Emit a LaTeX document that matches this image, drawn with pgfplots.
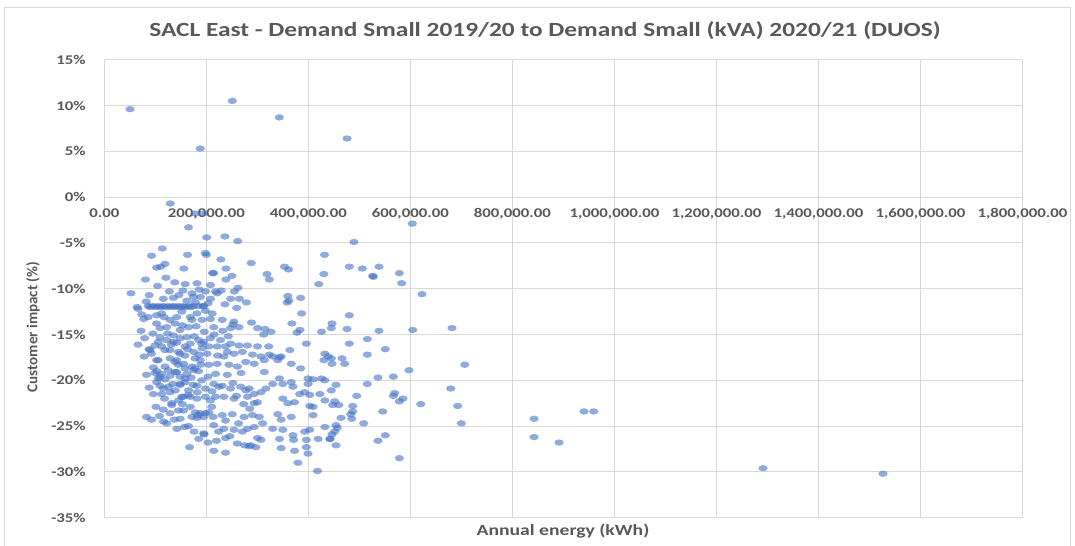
\documentclass[border=0pt]{standalone}
\usepackage{fontspec}
\setmainfont{Carlito}[FakeStretch=1.26]
\newfontfamily\plainfont{Carlito}
\usepackage{pgfplots}
\pgfplotsset{compat=1.18}
\definecolor{txt}{HTML}{595959}
\definecolor{gridc}{HTML}{D9D9D9}
\definecolor{dot}{HTML}{4472C4}

\begin{document}
\begin{tikzpicture}[x=0.75pt,y=0.75pt]
\useasboundingbox (0,0) rectangle (1075,546);
\draw[gridc, line width=0.75pt] (4.5,-5) -- (4.5,538) -- (1070.5,538) -- (1070.5,-5);
\begin{axis}[
  at={(78.3pt,21.225pt)}, anchor=south west,
  scale only axis, width=688.5pt, height=343.5pt,
  xmin=0, xmax=1800000, ymin=-35, ymax=15,
  axis x line=middle, axis y line=left,
  axis line style={-, draw=gridc, line width=0.75pt},
  hide obscured x ticks=false,
  scaled x ticks=false, scaled y ticks=false,
  major tick length=0pt,
  grid=major, grid style={draw=gridc, line width=0.75pt},
  xtick={0,200000,400000,600000,800000,1000000,1200000,1400000,1600000,1800000},
  xticklabels={0.00,{200,000.00},{400,000.00},{600,000.00},{800,000.00},{1,000,000.00},{1,200,000.00},{1,400,000.00},{1,600,000.00},{1,800,000.00}},
  ytick={-35,-30,-25,-20,-15,-10,-5,0,5,10,15},
  yticklabels={-35\%,-30\%,-25\%,-20\%,-15\%,-10\%,-5\%,0\%,5\%,10\%,15\%},
  tick label style={font=\fontsize{10}{12}\selectfont\bfseries, text=txt},
  xticklabel style={yshift=-5pt},
  yticklabel style={xshift=-10.5pt},
]
\addplot[only marks, mark=*, mark size=2.4pt, color=dot,
  mark options={xscale=1.45, fill=dot, fill opacity=0.6, draw opacity=0}] coordinates {
(50200,9.6) (250800,10.5) (343000,8.7) (188000,5.3) (475700,6.4)
(129200,-0.7) (177700,-1.8) (193300,-1.8) (603700,-2.9) (165000,-3.3)
(200600,-4.4) (236300,-4.3) (261400,-4.8)
(489400,-4.9) (480200,-7.6) (505700,-7.8) (538400,-7.6) (526000,-8.6) (527500,-8.7)
(578300,-8.3) (582900,-9.4) (622700,-10.6) (480200,-12.9) (446300,-13.8) (444900,-14.3)
(475700,-14.4) (538400,-14.6) (604500,-14.5) (681600,-14.3) (515500,-15.5) (480200,-16.0)
(550800,-16.6) (515500,-17.2) (465900,-17.6) (471200,-18.2) (445000,-17.6) (446300,-18.2)
(706500,-18.3) (597300,-18.9) (566500,-19.6) (536500,-19.7) (515500,-20.4) (454100,-20.5)
(444900,-21.1) (679000,-20.9) (494700,-21.7) (569200,-21.4) (566500,-21.7) (585500,-22.0)
(578300,-22.3) (620200,-22.6) (692700,-22.8) (451600,-22.3) (447600,-22.7) (459400,-22.7)
(486900,-22.8) (545700,-23.4) (486900,-23.4) (483000,-23.7) (485000,-24.2) (464000,-24.1)
(508400,-24.7) (699800,-24.7) (842400,-24.2) (940400,-23.4) (959400,-23.4) (842400,-26.2)
(891400,-26.8) (454100,-24.9) (456700,-25.2) (451600,-25.6) (446300,-25.9) (442400,-26.4)
(550800,-26.0) (536500,-26.6) (454100,-27.1) (578300,-28.5) (1291400,-29.6) (1526700,-30.2)
(113500,-5.6) (92400,-6.4) (163000,-6.3) (198000,-6.1) (200000,-6.3) (228400,-6.8)
(287800,-7.2) (353100,-7.6) (361000,-7.9) (431600,-6.3) (118800,-7.3) (110200,-7.6)
(102300,-7.7) (155800,-7.8)
(211900,-8.3) (214500,-8.3) (238300,-7.8) (238300,-9.0) (250100,-8.6) (318800,-8.4)
(323400,-9.0) (430300,-8.4) (420400,-9.5) (80500,-9.0) (120800,-8.8) (104300,-9.7)
(158400,-9.5) (181500,-9.4)
(52100,-10.5) (87800,-10.7) (127400,-10.3) (153800,-10.2) (171600,-10.5) (174900,-10.9)
(198000,-10.3) (217800,-10.3) (229000,-10.2) (221100,-10.5) (254800,-10.3) (359700,-10.8)
(361700,-11.3) (358400,-11.5) (384800,-11.0) (115500,-11.1) (135300,-11.0) (188100,-10.9)
(207900,-11.1) (247500,-11.1) (264700,-11.1) (278500,-11.5) (64000,-12.0) (66000,-12.2)
(161700,-11.3) (178200,-11.5) (236300,-11.7) (193400,-11.9) (203300,-11.6)
(85800,-11.9) (90000,-12.0) (95700,-11.9) (100000,-12.0) (105600,-11.9) (110000,-12.0)
(115500,-11.9) (120000,-12.0) (125400,-11.9) (130000,-12.0) (135300,-11.9) (140000,-12.0)
(145200,-11.9) (150000,-12.0) (155100,-11.9) (160000,-12.0) (165000,-11.9) (170000,-12.0)
(174900,-11.9) (184800,-11.9) (194700,-11.9)
(259400,-12.1) (386800,-12.7) (77200,-13.3) (85800,-13.1) (102300,-12.9) (112200,-12.7)
(128700,-13.4) (141900,-13.1) (151800,-12.5) (168300,-13.1) (181500,-12.7) (198000,-12.4)
(211200,-12.7) (207900,-13.3) (231000,-13.4) (254100,-13.6) (247500,-14.3) (288400,-13.7)
(300300,-14.3) (314800,-14.4) (312200,-15.0) (326700,-14.7) (367600,-13.8) (383500,-14.5)
(377500,-14.8) (425700,-14.7) (102300,-13.8) (108900,-14.3) (122100,-14.2) (138600,-13.8)
(148500,-14.5) (165000,-14.2) (171600,-13.4) (191400,-13.4) (214500,-14.2) (264000,-14.2)
(396000,-16.0) (363700,-16.7) (280500,-16.2) (264000,-16.2) (237600,-16.3) (221100,-16.3)
(300300,-16.3) (322100,-16.3) (66000,-16.1) (87800,-16.6) (92400,-17.1) (108900,-15.3)
(122100,-15.6) (135300,-15.1) (148500,-15.4) (161700,-15.3) (168300,-16.0) (184800,-15.6)
(194700,-15.8) (207900,-15.4) (227700,-15.6) (247500,-16.0) (432300,-17.1) (438900,-17.4)
(112200,-16.3) (128700,-16.7) (145200,-16.9) (158400,-16.3) (174900,-16.9) (191400,-16.5)
(201300,-17.1) (240900,-16.9) (254100,-17.1) (270600,-16.9) (290400,-17.2) (306900,-17.4)
(323400,-17.2) (339900,-17.8) (346500,-17.4)
(102300,-17.8) (118800,-18.5) (138600,-18.0) (155100,-18.2) (171600,-18.5) (188100,-17.8)
(204600,-18.3) (221100,-18.2) (234300,-17.4) (244200,-18.3) (260700,-18.5) (277200,-18.0)
(293700,-18.2) (313500,-17.8) (330000,-17.4) (343200,-17.5) (366300,-18.2) (384800,-18.7)
(430300,-17.8)
(82500,-19.4) (99000,-19.2) (105600,-19.8) (112200,-19.3) (125400,-18.9) (128700,-19.5)
(141900,-19.1) (148500,-19.6) (161700,-19.3) (174900,-18.9) (184800,-19.0)
(313500,-19.1) (399300,-19.8) (409200,-19.9) (425700,-19.8)
(102300,-20.2) (108900,-20.6) (115500,-20.9) (125400,-20.7) (112200,-21.5) (128700,-21.3)
(148500,-20.4) (158400,-20.2) (165000,-21.1) (181500,-20.6) (198000,-20.9) (214500,-20.4)
(224400,-20.7) (231000,-20.6) (217800,-21.8) (234300,-21.8) (247500,-20.9) (267300,-20.7)
(277200,-21.1) (283800,-20.9) (293700,-21.5) (306900,-21.3) (316800,-20.9) (330000,-20.4)
(343200,-19.8) (349800,-20.4) (366300,-20.2) (369600,-20.7) (382800,-21.5) (392700,-21.3)
(399300,-20.4) (402600,-21.6) (422400,-21.5) (432300,-20.0)
(132000,-22.5) (145200,-22.2) (155100,-21.8) (168300,-21.8) (181500,-22.0) (198000,-21.8)
(207900,-22.2) (254100,-22.0) (280500,-21.8) (293700,-22.5) (300300,-22.4) (349800,-22.0)
(359700,-22.5) (372900,-22.4) (402600,-22.8) (409200,-22.9) (432300,-22.2)
(115500,-23.2) (128700,-23.6) (145200,-23.3) (155100,-23.3) (168300,-22.9) (178200,-23.5)
(188100,-23.6) (198000,-23.6) (204600,-23.5) (82500,-24.0) (92400,-24.3) (122100,-24.7)
(148500,-24.2) (171600,-24.0) (181500,-24.1) (194700,-24.0) (213200,-24.0) (231000,-23.8)
(237600,-24.4) (250800,-23.7) (273900,-24.0) (290400,-23.8) (303600,-24.0) (339900,-23.7)
(346500,-24.3) (366300,-24.0) (409200,-23.8) (432300,-25.1)
(165000,-25.0) (214500,-24.9) (234300,-25.3) (254100,-25.4) (270600,-25.6) (280500,-25.3)
(293700,-25.1) (310200,-24.7) (330000,-25.3) (349800,-25.4) (369600,-26.0) (392700,-25.6)
(402600,-25.4)
(194700,-25.8) (195500,-25.9) (219800,-26.6) (237600,-26.3) (260700,-26.9) (287100,-27.1)
(300300,-26.3) (306900,-26.5) (343200,-26.4) (370900,-26.5) (396000,-26.5) (419100,-26.4)
(442200,-26.4) (167000,-27.3) (214500,-27.7) (237600,-27.9) (283800,-27.2) (297000,-27.3)
(346500,-27.4) (372900,-27.7) (396000,-27.3) (399300,-28.0) (379500,-29.0) (417800,-29.9)
(89400,-16.7) (105700,-15.8) (118800,-16.7) (135100,-15.8) (141800,-17.8) (148200,-17.1)
(109000,-19.6) (158000,-19.8) (177600,-18.7) (190800,-16.0) (177600,-17.6) (151600,-21.8)
(164500,-21.6) (132000,-22.7) (184100,-23.8) (144900,-18.3) (105700,-17.8) (128600,-17.6)
(158000,-18.7) (138400,-19.1) (148200,-20.5) (174300,-20.5) (190800,-20.0) (210400,-22.9)
(72000,-14.6) (79000,-15.4) (95000,-14.9) (99000,-16.2) (117000,-13.1) (124000,-14.9)
(131000,-16.1) (142000,-15.9) (153000,-14.0) (158000,-17.3) (163000,-16.6) (176000,-15.2)
(180000,-14.1) (186000,-17.2) (196000,-14.7) (205000,-16.3) (215000,-15.0) (222000,-17.3)
(232000,-14.6) (243000,-15.2) (252000,-13.9) (96000,-18.6) (103000,-19.0) (119000,-19.9)
(134000,-20.4) (139000,-21.1) (153000,-22.6) (170000,-19.7) (182000,-21.3) (189000,-18.3)
(203000,-19.6) (211000,-21.2) (218000,-19.3) (241000,-19.4) (252000,-20.3) (259000,-21.7)
(268000,-19.2) (273000,-22.6) (285000,-23.1) (101000,-22.9) (108000,-23.9) (118000,-22.0)
(137000,-24.3) (142000,-25.3) (157000,-25.1) (176000,-25.6) (185000,-26.4) (203000,-26.8)
(224000,-25.6) (246000,-26.1) (263000,-24.7) (275000,-27.1) (116000,-24.5) (96000,-21.5)
(88000,-20.8) (78000,-17.4) (73000,-12.8) (82000,-11.4) (138000,-9.3) (146000,-10.7)
(186000,-10.1) (208000,-9.6) (262000,-9.9)
};
\end{axis}
\node[text=txt, font=\fontsize{15.1}{18}\selectfont\bfseries] at (545,515)
  {SACL East - Demand Small 2019/20 to Demand Small (kVA) 2020/21 (DUOS)};
\node[text=txt, font=\plainfont\fontsize{11.3}{14}\selectfont\bfseries, rotate=90] at (33,219)
  {Customer impact (\%)};
\node[text=txt, font=\fontsize{11.7}{14}\selectfont\bfseries] at (563,15)
  {Annual energy (kWh)};
\end{tikzpicture}
\end{document}
